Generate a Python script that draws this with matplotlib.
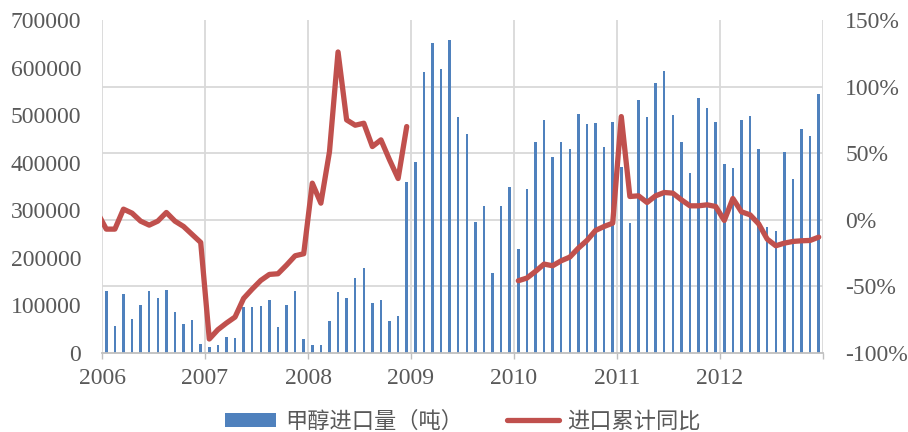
import numpy as np
import matplotlib
matplotlib.use("Agg")
import matplotlib.pyplot as plt
from matplotlib.ticker import FuncFormatter
from matplotlib.patches import Patch
from matplotlib.lines import Line2D

years = ["2006", "2007", "2008", "2009", "2010", "2011", "2012"]

imports_2006 = [130000, 57000, 124000, 72000, 100000, 130000, 115000, 132000, 86000, 61000, 69000, 19000]
imports_2007 = [12000, 17000, 34000, 31000, 97000, 97000, 99000, 112000, 55000, 100000, 131000, 29000]
imports_2008 = [16000, 16000, 67000, 128000, 116000, 158000, 179000, 106000, 111000, 68000, 78000, 360000]
imports_2009 = [401000, 590000, 651000, 598000, 659000, 496000, 461000, 276000, 308000, 168000, 308000, 349000]
imports_2010 = [218000, 344000, 444000, 489000, 412000, 444000, 428000, 502000, 481000, 483000, 434000, 486000]
imports_2011 = [390000, 273000, 532000, 497000, 567000, 593000, 500000, 444000, 378000, 535000, 514000, 486000]
imports_2012 = [398000, 389000, 490000, 498000, 429000, 264000, 256000, 423000, 366000, 471000, 456000, 544000]

# cumulative YoY (%), Dec 2005 point lies just outside the axis
yoy_dec2005 = [5]
yoy_2006 = [-7, -7, 8, 5, -1, -4, -1, 5.5, -1, -5, -11, -17]
yoy_2007 = [-89.5, -82.5, -77.5, -73, -59, -52, -45.5, -41, -40.5, -34, -27, -25.5]
yoy_2008 = [27.5, 12.5, 51, 126, 75, 71, 72.5, 55, 60, 45, 31, 70]
yoy_2009 = [np.nan] * 12
yoy_2010 = [-45.75, -43.75, -38.75, -33.25, -34.5, -30.75, -28, -21.25, -15.5, -8, -5, -2.5]
yoy_2011 = [77.5, 17.5, 18, 13, 18, 20.5, 20, 15, 10.5, 10.5, 11.25, 10]
yoy_2012 = [-0.5, 16, 6, 3.75, -3, -14.5, -19.5, -17.5, -16.25, -15.75, -15.5, -13]

bar_label = "甲醇进口量（吨）"
line_label = "进口累计同比"

imports = np.array(imports_2006 + imports_2007 + imports_2008 + imports_2009 +
                   imports_2010 + imports_2011 + imports_2012, dtype=float)
yoy = np.array(yoy_dec2005 + yoy_2006 + yoy_2007 + yoy_2008 + yoy_2009 +
               yoy_2010 + yoy_2011 + yoy_2012, dtype=float) / 100.0

n = len(imports)
xb = np.arange(n) + 0.5
xl = np.arange(-1, n) + 0.5

BLUE = "#4F81BD"
RED = "#C0504D"
GRID = "#D9D9D9"
TXT = "#595959"
SERIF = "Liberation Serif"
CJK = ["Noto Sans CJK SC", "DejaVu Sans"]

fig = plt.figure(figsize=(9.08, 4.32), dpi=100)
ax = fig.add_axes([102/908, 1-353/432, 721/908, 333/432])
ax.set_zorder(1)

ax.bar(xb, imports, width=0.3, color=BLUE, zorder=3)
ax.set_xlim(0, n)
ax.set_ylim(0, 700000)
ax.set_yticks(np.arange(0, 700001, 100000))
ax.set_yticks(np.arange(0, 700001, 140000), minor=True)
ax.yaxis.set_major_formatter(FuncFormatter(lambda v, p: f"{int(v)}"))
ax.grid(True, which="minor", axis="y", color=GRID, lw=1.3, zorder=0)
ax.tick_params(axis="y", which="both", length=0, pad=15, labelsize=17, labelcolor=TXT)

xt = np.arange(0, n + 1, 12)
ax.set_xticks(xt)
ax.set_xticklabels(years + [""])
ax.grid(True, which="major", axis="x", color=GRID, lw=1.3, zorder=0)
ax.tick_params(axis="x", length=4.5, width=1, color="#BFBFBF", pad=6, labelsize=17, labelcolor=TXT)
for lbl in ax.get_xticklabels() + ax.get_yticklabels():
    lbl.set_fontfamily(SERIF)

for s in ["top", "left", "right"]:
    ax.spines[s].set_visible(False)
ax.spines["bottom"].set_color("#BFBFBF")
ax.spines["bottom"].set_linewidth(1.3)
ax.spines["bottom"].set_zorder(4)

ax2 = ax.twinx()
ax2.plot(xl, yoy, color=RED, lw=3.8, solid_capstyle="round", solid_joinstyle="round", zorder=5)
ax2.set_ylim(-1.0, 1.5)
ax2.set_yticks(np.arange(-1.0, 1.51, 0.5))
ax2.yaxis.set_major_formatter(FuncFormatter(lambda v, p: f"{int(round(v*100))}%"))
ax2.tick_params(axis="y", length=0, pad=16, labelsize=17, labelcolor=TXT)
for lbl in ax2.get_yticklabels():
    lbl.set_fontfamily(SERIF)
for s in ax2.spines.values():
    s.set_visible(False)

handles = [Patch(facecolor=BLUE, edgecolor="none"),
           Line2D([0], [0], color=RED, lw=3.8, solid_capstyle="round")]
fig.legend(handles, [bar_label, line_label], loc="center",
           bbox_to_anchor=(463/908, 1-421/432), ncol=2, frameon=False,
           prop={"family": CJK, "size": 16}, labelcolor=TXT,
           handlelength=2.3, handleheight=0.6, handletextpad=0.4, columnspacing=2.0)

fig.savefig("out.png", dpi=100)
